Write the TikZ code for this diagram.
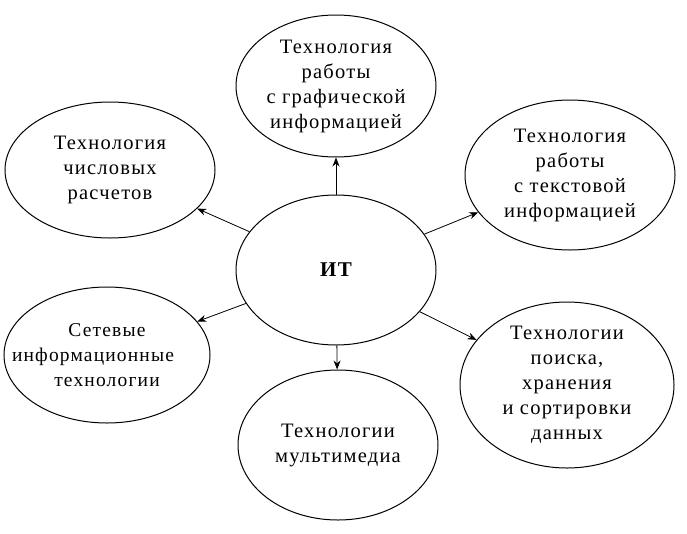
\documentclass[tikz,border=0pt]{standalone}
\usepackage{fontspec}
\setmainfont[LetterSpace=6]{Liberation Serif}
\usetikzlibrary{shapes.geometric,arrows.meta}
\begin{document}
\begin{tikzpicture}[x=1pt,y=-1pt,
  ell/.style={ellipse,draw,line width=1pt,inner sep=0pt,align=center,font=\fontsize{20.5}{25}\selectfont},
  arr/.style={-{Stealth[length=9pt,width=7pt]},line width=0.8pt}]
\useasboundingbox (0,0) rectangle (687,533);
\node[ell,minimum width=200,minimum height=150,font=\fontsize{21}{25}\selectfont\bfseries] (c) at (336,270) {ИТ};
\node[ell,minimum width=200,minimum height=142] (t) at (336,86) {Технология\\работы\\с графической\\информацией};
\node[ell,minimum width=210,minimum height=136] (tl) at (110,170) {Технология\\числовых\\расчетов};
\node[ell,minimum width=210,minimum height=150] (tr) at (570,175) {Технология\\работы\\с текстовой\\информацией};
\node[ell,minimum width=206,minimum height=136,text width=130pt,font=\fontsize{19.5}{25}\selectfont] (bl) at (107,355) {Сетевые\\\hspace*{-30pt}информационные\hspace*{-30pt}\\технологии};
\node[ell,minimum width=200,minimum height=150] (b) at (338,445) {Технологии\\мультимедиа};
\node[ell,minimum width=214,minimum height=160] (br) at (567,385) {Технологии\\поиска,\\хранения\\и сортировки\\данных};
\foreach \n in {t,tl,tr,bl,b,br} \draw[arr] (c) -- (\n);
\end{tikzpicture}
\end{document}
